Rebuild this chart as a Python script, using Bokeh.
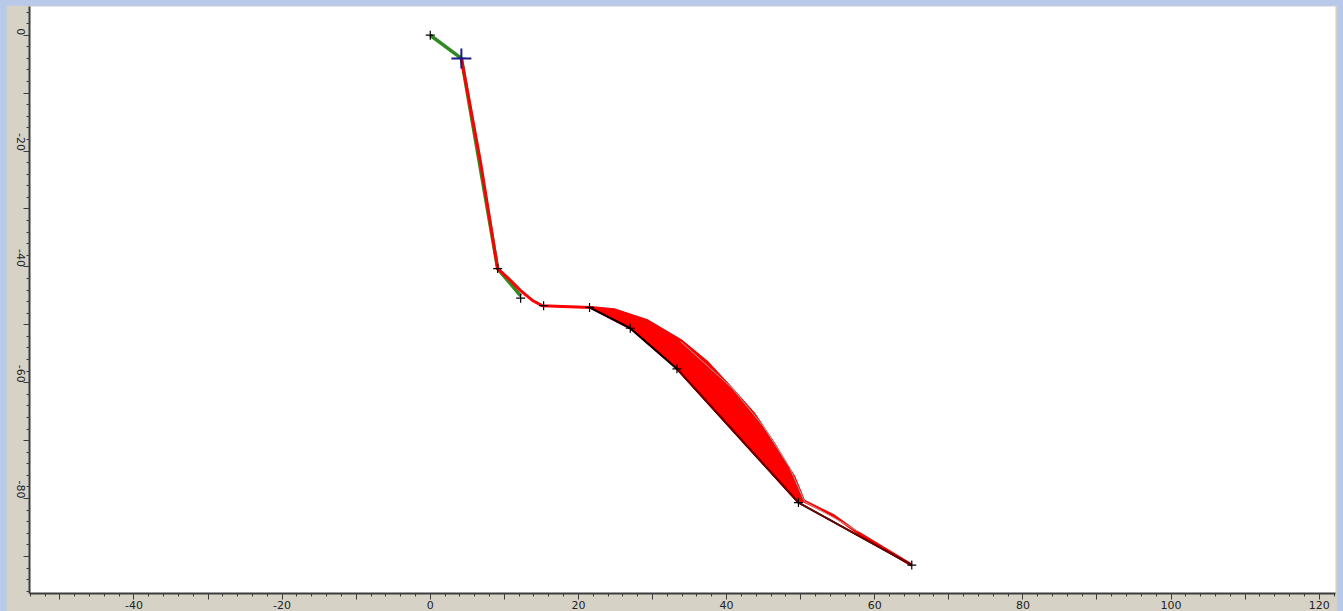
import math
from bokeh.plotting import figure
from bokeh.models import FixedTicker, Range1d
from bokeh.embed import file_html
from bokeh.resources import INLINE

# ---- data ----
# measured points (black + markers and black polyline)
black_x = [0, 4.2, 9.1, 12.2, 15.3, 21.5, 27.0, 33.3, 49.7, 65.0]
black_y = [0, -4.0, -40.3, -45.4, -46.7, -47.0, -50.6, -57.6, -80.7, -91.5]

# green polyline
green_x = [0, 4.2, 9.1, 12.2]
green_y = [0, -4.0, -40.3, -45.0]

# outermost red curve
red_x = [4.2, 6.8, 9.1, 10.4, 12.2, 13.8, 15.1, 21.6, 24.8, 29.3, 33.8, 37.4,
         40.5, 43.7, 46.4, 49.1, 50.4, 54.5, 57.6, 65.0]
red_y = [-4.0, -22.0, -40.3, -41.8, -44.1, -45.8, -46.7, -47.0, -47.4, -49.3,
         -52.7, -56.5, -60.8, -65.4, -70.6, -76.3, -80.4, -83.0, -85.8, -91.5]

# thin grey curve at the upper edge of the red band
grey_x = [33.8, 40.8, 45.0, 48.5, 50.5, 57.8]
grey_y = [-52.9, -61.0, -67.6, -74.6, -80.5, -85.7]

# highlighted point (blue cross)
blue_x = [4.2]
blue_y = [-4.0]

# axis ticks
x_major = list(range(-50, 121, 10))
x_labels = {v: (str(v) if v % 20 == 0 else "") for v in x_major}
x_minor = list(range(-54, 123, 2))
y_major = list(range(-90, 1, 10))
y_labels = {v: (str(v) if v % 20 == 0 else "") for v in y_major}
y_minor = list(range(-96, 5, 2))

BEIGE = "#D6D2C6"
AXIS = "#3c3c3c"

p = figure(width=1331, height=606, output_backend="svg", toolbar_location=None,
           x_range=Range1d(-54.1, 122.2), y_range=Range1d(-96.4, 4.96),
           min_border_left=23, min_border_right=2, min_border_top=1,
           min_border_bottom=18)
p.border_fill_color = BEIGE
p.background_fill_color = "white"
p.outline_line_color = None
p.xgrid.visible = False
p.ygrid.visible = False

for ax, ticks, minor, labels in ((p.xaxis[0], x_major, x_minor, x_labels),
                                 (p.yaxis[0], y_major, y_minor, y_labels)):
    ax.ticker = FixedTicker(ticks=ticks, minor_ticks=minor)
    ax.major_label_overrides = labels
    ax.axis_line_color = AXIS
    ax.axis_line_width = 2
    ax.major_tick_line_color = AXIS
    ax.minor_tick_line_color = AXIS
    ax.major_tick_in = 0
    ax.minor_tick_in = 0
    ax.major_tick_out = 6
    ax.minor_tick_out = 3
    ax.major_label_text_font = "DejaVu Sans"
    ax.major_label_text_font_size = "11px"
    ax.major_label_text_color = "#222222"
    ax.major_label_standoff = 1

p.yaxis[0].major_label_orientation = -math.pi / 2
p.yaxis[0].major_label_standoff = 3

# green polyline underneath the red curves
p.line(green_x, green_y, line_color="#2E8B22", line_width=3.5)

# red band: filled region between the outermost red curve and the black polyline
i0 = red_x.index(21.6)
i1 = red_x.index(50.4)
band_x = red_x[i0:i1 + 1] + black_x[5:9][::-1]
band_y = red_y[i0:i1 + 1] + black_y[5:9][::-1]
p.patch(band_x, band_y, fill_color="#FF0000", line_color="#FF0000", line_width=2)

p.line(red_x, red_y, line_color="#FF0000", line_width=3)
p.line(black_x[5:], black_y[5:], line_color="black", line_width=2)
p.line(grey_x, grey_y, line_color="#c09a9a", line_width=1)
p.line(black_x[7:], black_y[7:], line_color="#7a0000", line_width=1.5)

p.scatter(black_x, black_y, marker="cross", size=9, line_color="black", line_width=1.2)
p.scatter(blue_x, blue_y, marker="cross", size=20, line_color="#1c1c8a", line_width=2)

html = file_html(p, INLINE)
html = html.replace("<head>", "<head><style>body{background:#B8C9EA;padding:5px 0 0 6px !important;}</style>", 1)
open("out.html", "w").write(html)
